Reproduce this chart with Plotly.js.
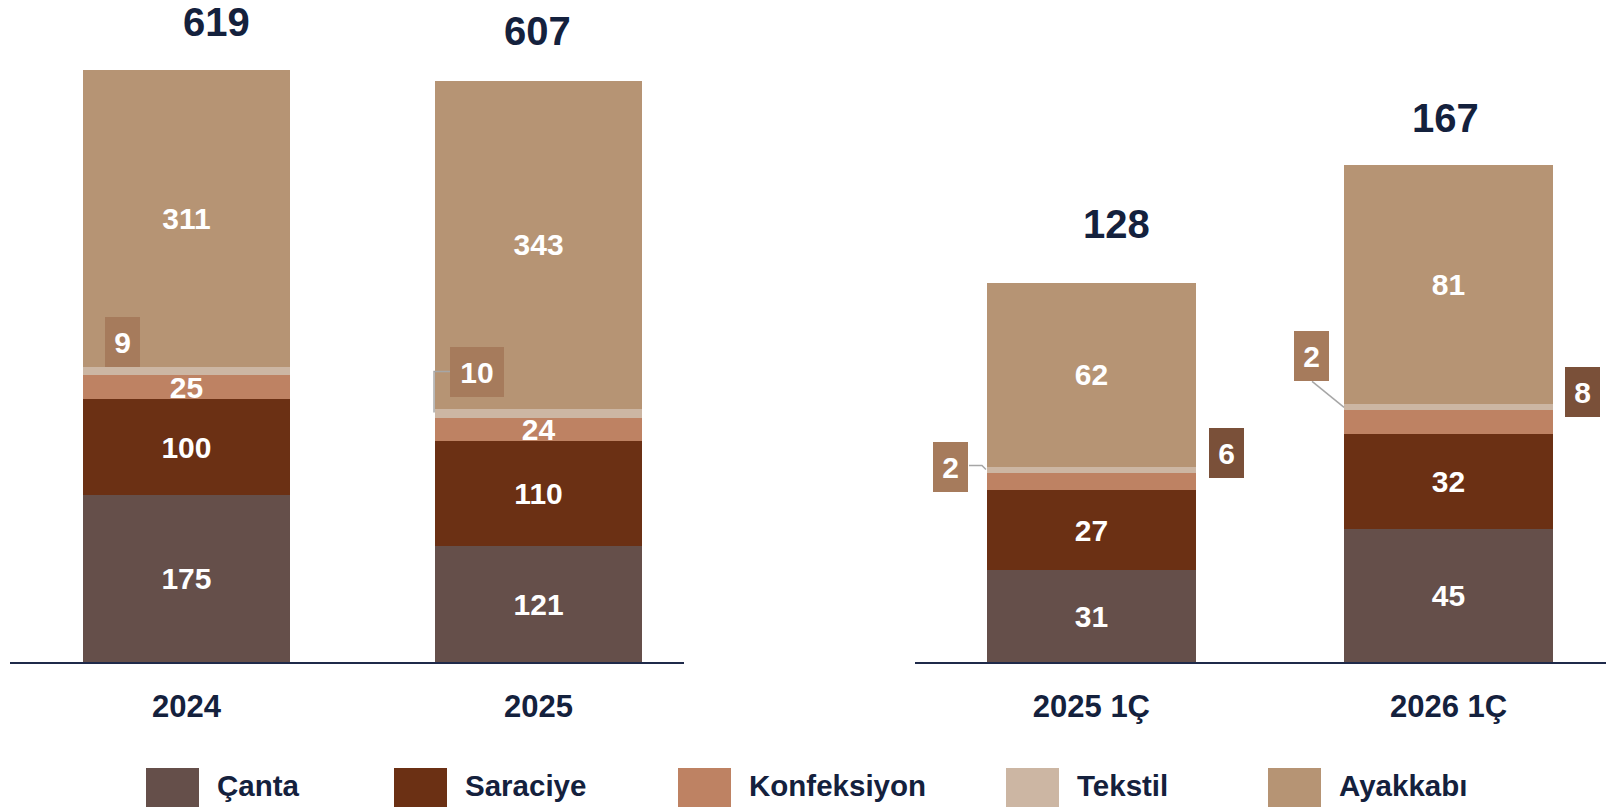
<!DOCTYPE html>
<html>
<head>
<meta charset="utf-8">
<script src="https://cdn.plot.ly/plotly-3.0.1.min.js"></script>
<style>html,body{margin:0;padding:0;background:#fff;}#chart{width:1606px;height:807px;}</style>
</head>
<body>
<div id="chart"></div>
<script>
// ---- data ----
const annualCats = ['2024', '2025'];
const quarterCats = ['2025 1Ç', '2026 1Ç'];
const seriesNames = ['Çanta', 'Saraciye', 'Konfeksiyon', 'Tekstil', 'Ayakkabı'];
const cantaAnnual = [175, 121];
const saraciyeAnnual = [100, 110];
const konfeksiyonAnnual = [25, 24];
const tekstilAnnual = [9, 10];
const ayakkabiAnnual = [311, 343];
const cantaQuarter = [31, 45];
const saraciyeQuarter = [27, 32];
const konfeksiyonQuarter = [6, 8];
const tekstilQuarter = [2, 2];
const ayakkabiQuarter = [62, 81];
const totalsAnnual = [619, 607];
const totalsQuarter = [128, 167];

// ---- styles ----
const colors = ['#654F4A', '#6B3014', '#BE8263', '#CCB6A3', '#B69474'];
const FONT = 'Liberation Sans, Arial, sans-serif';
const NAVY = '#14213D';
const W1 = 0.588, W2 = 0.585;

const annualSeries = [cantaAnnual, saraciyeAnnual, konfeksiyonAnnual, tekstilAnnual, ayakkabiAnnual];
const quarterSeries = [cantaQuarter, saraciyeQuarter, konfeksiyonQuarter, tekstilQuarter, ayakkabiQuarter];
// which segments get an inside label (others use callouts)
const insideAnnual = [true, true, true, false, true];
const insideQuarter = [true, true, false, false, true];

function cum(series, upto, i) { let s = 0; for (let k = 0; k < upto; k++) s += series[k][i]; return s; }

const traces = [];
seriesNames.forEach((name, k) => {
  traces.push({
    type: 'bar', name: name, x: annualCats, y: annualSeries[k], xaxis: 'x', yaxis: 'y',
    width: W1, marker: {color: colors[k], line: {width: 0}},
    text: annualSeries[k].map(v => insideAnnual[k] ? String(v) : ''),
    textposition: 'inside', insidetextanchor: 'middle', constraintext: 'none', textangle: 0,
    textfont: {family: FONT, size: 30, color: '#ffffff', weight: 700},
    hoverinfo: 'name+y', showlegend: false
  });
  traces.push({
    type: 'bar', name: name, x: quarterCats, y: quarterSeries[k], xaxis: 'x2', yaxis: 'y2',
    width: W2, marker: {color: colors[k], line: {width: 0}},
    text: quarterSeries[k].map(v => insideQuarter[k] ? String(v) : ''),
    textposition: 'inside', insidetextanchor: 'middle', constraintext: 'none', textangle: 0,
    textfont: {family: FONT, size: 30, color: '#ffffff', weight: 700},
    hoverinfo: 'name+y', showlegend: false
  });
});

const annotations = [];
const shapes = [];

// totals
const totalShiftA = [[30, 48], [-1, 50]];
const totalShiftQ = [[25, 59], [-3, 47]];
annualCats.forEach((c, i) => annotations.push({
  xref: 'x', yref: 'y', x: i, y: cum(annualSeries, 5, i), text: String(totalsAnnual[i]),
  showarrow: false, xshift: totalShiftA[i][0], yshift: totalShiftA[i][1], yanchor: 'middle',
  font: {family: FONT, size: 40, color: NAVY, weight: 700}
}));
quarterCats.forEach((c, i) => annotations.push({
  xref: 'x2', yref: 'y2', x: i, y: cum(quarterSeries, 5, i), text: String(totalsQuarter[i]),
  showarrow: false, xshift: totalShiftQ[i][0], yshift: totalShiftQ[i][1], yanchor: 'middle',
  font: {family: FONT, size: 40, color: NAVY, weight: 700}
}));

// callouts
const BOX_LIGHT = '#A67B5C', BOX_DARK = '#7A5039';
function callout(xref, yref, x, y, value, dx, dy, bg) {
  const txt = String(value);
  annotations.push({
    xref: xref, yref: yref, x: x, y: y, text: txt, showarrow: false,
    xshift: dx, yshift: dy, xanchor: 'center', yanchor: 'middle',
    width: txt.length > 1 ? 54 : 35, height: 50, bgcolor: bg, borderpad: 0, borderwidth: 0,
    font: {family: FONT, size: 30, color: '#ffffff', weight: 700}
  });
}
function connector(xref, yref, x, y, path) {
  shapes.push({type: 'path', xref: xref, yref: yref, xsizemode: 'pixel', ysizemode: 'pixel',
    xanchor: x, yanchor: y, path: path, fillcolor: 'rgba(0,0,0,0)', layer: 'above',
    line: {color: '#A6A6A6', width: 1.5}});
}
// annual Tekstil
const tA0 = cum(annualSeries, 3, 0) + tekstilAnnual[0] / 2;
const tA1 = cum(annualSeries, 3, 1) + tekstilAnnual[1] / 2;
callout('x', 'y', 0 - W1 / 2, tA0, tekstilAnnual[0], 40, 29, BOX_LIGHT);
callout('x', 'y', 1 - W1 / 2, tA1, tekstilAnnual[1], 42, 42, BOX_LIGHT);
connector('x', 'y', 1 - W1 / 2, tA1, 'M15,42 L-1,42 L-1,1');
// quarterly
const tQ0 = cum(quarterSeries, 3, 0) + tekstilQuarter[0] / 2;
const tQ1 = cum(quarterSeries, 3, 1) + tekstilQuarter[1] / 2;
const kQ0 = cum(quarterSeries, 2, 0) + konfeksiyonQuarter[0] / 2;
const kQ1 = cum(quarterSeries, 2, 1) + konfeksiyonQuarter[1] / 2;
callout('x2', 'y2', 0 - W2 / 2, tQ0, tekstilQuarter[0], -36, 3, BOX_LIGHT);
connector('x2', 'y2', 0 - W2 / 2, tQ0, 'M-18,4 L-5,4 L-1,0');
callout('x2', 'y2', 0 + W2 / 2, kQ0, konfeksiyonQuarter[0], 31, 28, BOX_DARK);
callout('x2', 'y2', 1 - W2 / 2, tQ1, tekstilQuarter[1], -33, 51, BOX_LIGHT);
connector('x2', 'y2', 1 - W2 / 2, tQ1, 'M-32,26 L0,0');
callout('x2', 'y2', 1 + W2 / 2, kQ1, konfeksiyonQuarter[1], 30, 30, BOX_DARK);

// manual legend (large swatches)
const legendSwatchX = [146, 394, 678, 1006, 1268];
seriesNames.forEach((name, k) => {
  const x0 = legendSwatchX[k] / 1606, x1 = (legendSwatchX[k] + 53) / 1606;
  shapes.push({type: 'rect', xref: 'paper', yref: 'paper', x0: x0, x1: x1,
    y0: 0, y1: 39 / 807, fillcolor: colors[k], line: {width: 0}});
  annotations.push({xref: 'paper', yref: 'paper', x: (legendSwatchX[k] + 69) / 1606, y: 22 / 807,
    xanchor: 'left', yanchor: 'middle', showarrow: false, text: name,
    font: {family: FONT, size: 29.5, color: NAVY, weight: 700}});
});

const yDomain = [145 / 807, 1];
const axisCommon = {
  type: 'category', showgrid: false, zeroline: false, showline: true,
  linecolor: '#1F2A4A', linewidth: 2, ticks: '', ticklabelstandoff: 16,
  tickfont: {family: FONT, size: 31, color: NAVY, weight: 700}
};
const layout = {
  width: 1606, height: 807,
  margin: {l: 0, r: 0, t: 0, b: 0},
  paper_bgcolor: '#ffffff', plot_bgcolor: 'rgba(0,0,0,0)',
  barmode: 'stack', showlegend: false,
  xaxis: Object.assign({}, axisCommon, {domain: [10 / 1606, 684 / 1606], range: [-0.501, 1.413], anchor: 'y'}),
  xaxis2: Object.assign({}, axisCommon, {domain: [915 / 1606, 1], range: [-0.494, 1.441], anchor: 'y2'}),
  yaxis: {domain: yDomain, range: [0, 692.8], visible: false, anchor: 'x'},
  yaxis2: {domain: yDomain, range: [0, 223.6], visible: false, anchor: 'x2'},
  annotations: annotations, shapes: shapes,
  font: {family: FONT}
};
Plotly.newPlot('chart', traces, layout, {displayModeBar: false, staticPlot: true});
</script>
</body>
</html>
